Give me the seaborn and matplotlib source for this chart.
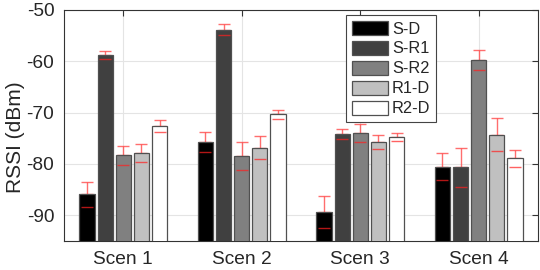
import numpy as np
import pandas as pd
import matplotlib
matplotlib.use("Agg")
import matplotlib.pyplot as plt
import seaborn as sns

scenarios = ["Scen 1", "Scen 2", "Scen 3", "Scen 4"]
links = ["S-D", "S-R1", "S-R2", "R1-D", "R2-D"]
sd = [-85.9, -75.7, -89.4, -80.5]
sr1 = [-58.8, -53.8, -74.2, -80.6]
sr2 = [-78.3, -78.5, -74.0, -59.7]
r1d = [-77.9, -76.8, -75.7, -74.3]
r2d = [-72.6, -70.3, -74.8, -78.9]
sd_err = [2.4, 1.9, 3.1, 2.6]
sr1_err = [0.8, 1.05, 1.0, 3.8]
sr2_err = [1.8, 2.7, 1.8, 1.95]
r1d_err = [1.7, 2.3, 1.3, 3.2]
r2d_err = [1.2, 0.9, 0.8, 1.6]
yticks = [-90, -80, -70, -60, -50]
base = -100

colors = ["#000000", "#404040", "#808080", "#c0c0c0", "#ffffff"]

values = [sd, sr1, sr2, r1d, r2d]
errs = [sd_err, sr1_err, sr2_err, r1d_err, r2d_err]
df = pd.DataFrame({
    "scen": [s for _ in links for s in scenarios],
    "link": [l for l in links for _ in scenarios],
    "rssi": [v for vals in values for v in vals],
})

sns.set_style("white")
plt.rcParams["font.family"] = ["Liberation Sans", "DejaVu Sans"]

fig = plt.figure(figsize=(5.4, 2.7), dpi=100)
ax = fig.add_axes([64 / 540, 29 / 270, 474 / 540, 231 / 270])

sns.barplot(data=df, x="scen", y="rssi", hue="link", order=scenarios,
            hue_order=links, palette=colors, width=0.765, gap=0.17,
            errorbar=None, edgecolor="#505050", linewidth=0.9,
            ax=ax, zorder=3)

# re-base bars at the axis floor (MATLAB style baseline below range)
for cont in ax.containers:
    for r in cont:
        h = r.get_y() + r.get_height()
        r.set_y(base)
        r.set_height(h - base)

# error bars
for i, link in enumerate(links):
    cont = ax.containers[i]
    xs = [r.get_x() + r.get_width() / 2 for r in cont]
    v = np.array(values[i])
    e = np.array(errs[i])
    ax.errorbar(xs, v, yerr=[np.zeros_like(e), e], fmt="none",
                ecolor="#ff4a4a", elinewidth=1.0, capsize=4, capthick=1.0,
                alpha=0.8, zorder=2)
    ax.plot(xs, v - e, linestyle="none", marker="_", markersize=8,
            markeredgewidth=1.0, color="#ff2020", alpha=0.7, zorder=4)

ax.set_ylim(-95, -50)
ax.set_xlim(-0.5, 3.5)
ax.set_yticks(yticks)
ax.set_yticklabels([str(t) for t in yticks])
ax.grid(True, color="#e4e4e4", linewidth=0.8, zorder=0)
ax.set_axisbelow(True)
ax.tick_params(axis="both", direction="in", length=4, labelsize=13.8,
               top=True, right=True, color="#333333", pad=7)
ax.set_xlabel("")
ax.set_ylabel("RSSI (dBm)", fontsize=15)
ax.yaxis.set_label_coords(-0.082, 0.45)
for s in ax.spines.values():
    s.set_color("#333333")
    s.set_linewidth(0.8)

leg = ax.legend(loc="upper left", bbox_to_anchor=(0.595, 0.978), fontsize=11.8,
                handlelength=2.2, handleheight=0.95, labelspacing=0.26,
                handletextpad=0.25, borderpad=0.35, borderaxespad=0,
                fancybox=False, framealpha=1, edgecolor="#444444", title=None)
leg.get_frame().set_linewidth(0.8)

fig.savefig("out.png", dpi=100)
